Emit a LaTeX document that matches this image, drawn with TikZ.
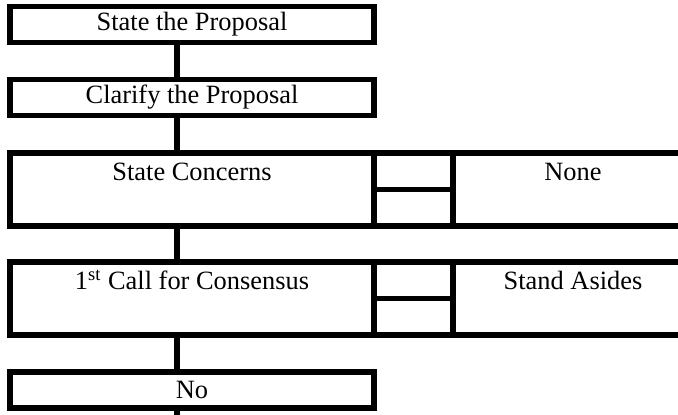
\documentclass[tikz,border=0pt]{standalone}
\usepackage{fontspec}
\setmainfont{Liberation Serif}
\usetikzlibrary{positioning}

\begin{document}
\begin{tikzpicture}[
    x=.5pt, y=-.5pt,
    bar/.style={draw=black, line width=2.75pt, outer sep=0pt, inner sep=0pt},
    wording/.style={font=\fontsize{13.2}{15.8}\selectfont, inner sep=0pt},
    stepbox/.style={bar, wording, minimum width=182pt, minimum height=18pt},
    rowbox/.style={bar, minimum width=182pt, minimum height=36.5pt},
    halfbox/.style={bar, minimum width=39.5pt, minimum height=18.25pt},
    sidebox/.style={bar, minimum width=120pt, minimum height=36.5pt},
    link/.style={draw=black, line width=2.75pt},
]
    \useasboundingbox (0, 0) rectangle (678, 414);
    \clip (0, 0) rectangle (678, 414);

    %% the line that runs down through every step
    \coordinate (spine) at (177, 0);

    %% the single steps
    \node[stepbox] (state) at (192, 24.5) {State the Proposal};
    \node[stepbox] (clarify) at (192, 97.5) {Clarify the Proposal};

    %% the concerns row: step, split box, outcome
    \node[rowbox] (concerns) at (192, 189.5) {};
    \node[halfbox, anchor=north west] (concernsup) at (concerns.north east) {};
    \node[halfbox, below=0pt of concernsup] (concernsdown) {};
    \node[sidebox, anchor=north west] (none) at (concernsup.north east) {};
    \path (concerns.north) ++(0, 27) node[wording, anchor=base]
        (concernstext) {State Concerns};
    \path (none.north) ++(0, 27) node[wording, anchor=base]
        (nonetext) {None};

    %% the consensus row, laid out the same way
    \node[rowbox] (consensus) at (192, 298.5) {};
    \node[halfbox, anchor=north west] (consensusup)
        at (consensus.north east) {};
    \node[halfbox, below=0pt of consensusup] (consensusdown) {};
    \node[sidebox, anchor=north west] (asides) at (consensusup.north east) {};
    \path (consensus.north) ++(0, 27) node[wording, anchor=base]
        (consensustext) {1\textsuperscript{st} Call for Consensus};
    \path (asides.north) ++(0, 27) node[wording, anchor=base]
        (asidestext) {Stand Asides};

    \node[stepbox] (no) at (192, 390) {No};
    \coordinate (tail) at (177, 430);

    %% connectors
    \draw[link] (state.south -| spine) -- (clarify.north -| spine);
    \draw[link] (clarify.south -| spine) -- (concerns.north -| spine);
    \draw[link] (concerns.south -| spine) -- (consensus.north -| spine);
    \draw[link] (consensus.south -| spine) -- (no.north -| spine);
    \draw[link] (no.south -| spine) -- (tail);
\end{tikzpicture}
\end{document}
